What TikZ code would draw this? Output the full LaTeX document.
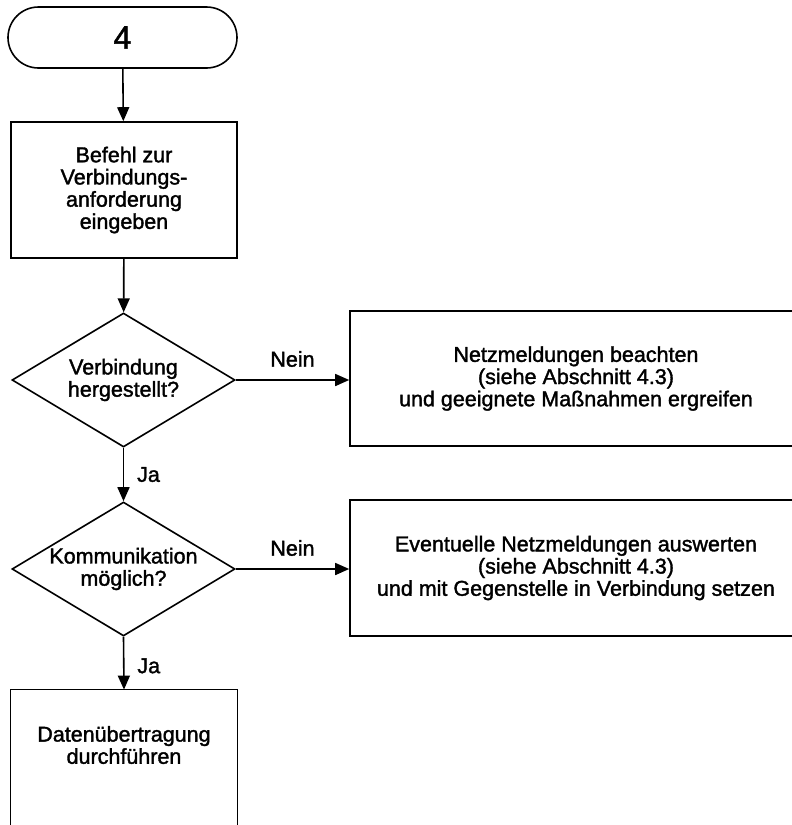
\documentclass[tikz,border=0pt]{standalone}
\usepackage{fontspec}
\setmainfont{Liberation Sans}
\newfontfamily\diagfont{Liberation Sans}[FakeBold=1.6]
\usetikzlibrary{shapes.geometric,arrows.meta}
\begin{document}
\begin{tikzpicture}[x=0.5pt,y=-0.5pt,
  every node/.style={font=\diagfont\fontsize{10.75}{11.1}\selectfont, align=center},
  ln/.style={line width=0.8pt},
  box/.style={draw, ln, inner sep=0pt},
  term/.style={draw, ln, rounded corners=15.25pt, minimum width=114.5pt, minimum height=30.5pt, font=\diagfont\fontsize{16}{18}\selectfont},
  dec/.style={diamond, aspect=1.664, draw, ln, minimum width=111.5pt, minimum height=67pt, inner sep=-1pt},
  arr/.style={ln, -{Triangle[length=7pt,width=6pt]}},
  lab/.style={inner sep=0pt}]
\useasboundingbox (0,0) rectangle (792,825);
\clip (0,0) rectangle (792,825);

\node[term] (t) at (122.5,37.5) {4};
\node[box, minimum width=113pt, minimum height=68pt] (b1) at (124,190)
  {Befehl zur\\Verbindungs-\\anforderung\\eingeben};
\node[dec] (d1) at (123.5,380) {Verbindung\\hergestellt?};
\node[box, minimum width=226pt, minimum height=67.5pt] (r1) at (576,378.5)
  {Netzmeldungen beachten\\(siehe Abschnitt 4.3)\\und geeignete Maßnahmen ergreifen};
\node[dec] (d2) at (123.5,569) {Kommunikation\\möglich?};
\node[box, minimum width=226pt, minimum height=68pt] (r2) at (576,568)
  {Eventuelle Netzmeldungen auswerten\\(siehe Abschnitt 4.3)\\und mit Gegenstelle in Verbindung setzen};
\node[inner sep=0pt, minimum width=113pt, minimum height=55pt] (b3) at (124,745)
  {Datenübertragung\\durchführen};
\draw[ln] ([yshift=-30pt]b3.south west) -- (b3.north west) -- (b3.north east) -- ([yshift=-30pt]b3.south east);

\draw[arr] (t) -- (b1);
\draw[arr] (b1) -- (d1);
\draw[arr] (d1.east) -- (d1.east -| r1.west) node[lab, pos=0.5, yshift=10.5pt] (n1) {Nein};
\draw[arr] (d1.south) -- (d2.north) node[lab, pos=0.5, xshift=12.5pt] (j1) {Ja};
\draw[arr] (d2.east) -- (d2.east -| r2.west) node[lab, pos=0.5, yshift=10.5pt] (n2) {Nein};
\draw[arr] (d2.south) -- (b3.north) node[lab, pos=0.55, xshift=12.5pt] (j2) {Ja};
\end{tikzpicture}
\end{document}
